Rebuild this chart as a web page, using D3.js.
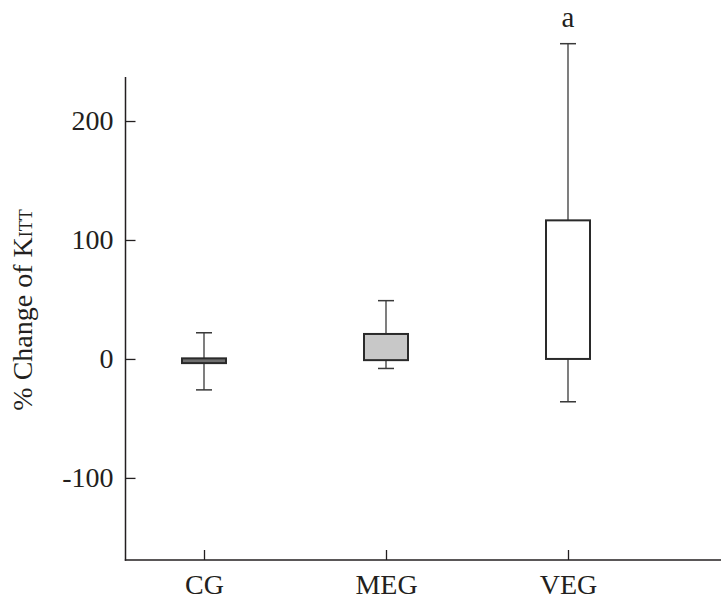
<!DOCTYPE html>
<html>
<head>
<meta charset="utf-8">
<script src="https://cdn.jsdelivr.net/npm/d3@7"></script>
<style>
  body { margin: 0; background: #fff; }
  svg text { font-family: "Liberation Serif", "DejaVu Serif", serif; fill: #231f20; }
</style>
</head>
<body>
<div id="chart-area"></div>
<script>
// Data
var groups = ["CG", "MEG", "VEG"];
var whiskerLow = [-26, -8, -36];
var boxLow = [-3.5, -1, 0];
var boxHigh = [0.5, 21, 116.5];
var whiskerHigh = [22, 49, 265];
var boxFill = ["#6f6f6f", "#c8c8c8", "#ffffff"];
var yTicks = [-100, 0, 100, 200];
var markLabels = ["", "", "a"];

var W = 721, H = 609;
var plotLeft = 125.5, plotRight = 721, plotTop = 77, plotBottom = 560;

var svg = d3.select("#chart-area")
	.append("svg")
	.attr("width", W)
	.attr("height", H);

// Scales
var y = d3.scaleLinear()
	.domain([-169, 237])
	.range([plotBottom, plotTop]);

var x = d3.scalePoint()
	.domain(groups)
	.range([204, 568]);

// Axes (hyphen minus as in the original)
var yAxis = svg.append("g")
	.attr("transform", "translate(" + plotLeft + ",0)")
	.call(d3.axisLeft(y).tickValues(yTicks).tickSize(-10).tickPadding(12).tickFormat(d => String(d)));
yAxis.select(".domain").remove();
yAxis.selectAll("line").attr("stroke", "#231f20").attr("stroke-width", 1.3);
yAxis.selectAll("text").attr("font-size", "28px").style("fill", "#231f20");

var xAxis = svg.append("g")
	.attr("transform", "translate(0," + plotBottom + ")")
	.call(d3.axisBottom(x).tickSize(-10).tickPadding(14));
xAxis.select(".domain").remove();
xAxis.selectAll("line").attr("stroke", "#231f20").attr("stroke-width", 1.3);
xAxis.selectAll("text").attr("font-size", "28px").attr("dy", "0.71em").style("fill", "#231f20");

// axis lines
svg.append("line")
	.attr("x1", plotLeft).attr("x2", plotLeft)
	.attr("y1", plotTop).attr("y2", plotBottom + 0.7)
	.attr("stroke", "#231f20").attr("stroke-width", 1.5);
svg.append("line")
	.attr("x1", plotLeft - 0.7).attr("x2", plotRight)
	.attr("y1", plotBottom).attr("y2", plotBottom)
	.attr("stroke", "#231f20").attr("stroke-width", 1.5);

// Boxes
var boxW = 44, capW = 16;
var rows = groups.map(function (g, i) {
	return { g: g, lo: whiskerLow[i], q1: boxLow[i], q3: boxHigh[i], hi: whiskerHigh[i], fill: boxFill[i], mark: markLabels[i] };
});

var box = svg.selectAll(".box")
	.data(rows)
	.enter().append("g")
	.attr("class", "box");

box.append("line")
	.attr("x1", d => x(d.g)).attr("x2", d => x(d.g))
	.attr("y1", d => y(d.hi)).attr("y2", d => y(d.lo))
	.attr("stroke", "#3a3a3a").attr("stroke-width", 1.3);

box.append("line")
	.attr("x1", d => x(d.g) - capW / 2).attr("x2", d => x(d.g) + capW / 2)
	.attr("y1", d => y(d.hi)).attr("y2", d => y(d.hi))
	.attr("stroke", "#3a3a3a").attr("stroke-width", 1.5);

box.append("line")
	.attr("x1", d => x(d.g) - capW / 2).attr("x2", d => x(d.g) + capW / 2)
	.attr("y1", d => y(d.lo)).attr("y2", d => y(d.lo))
	.attr("stroke", "#3a3a3a").attr("stroke-width", 1.5);

box.append("rect")
	.attr("x", d => x(d.g) - boxW / 2)
	.attr("width", boxW)
	.attr("y", d => y(d.q3))
	.attr("height", d => y(d.q1) - y(d.q3))
	.attr("fill", d => d.fill)
	.attr("stroke", "#2a2a2a").attr("stroke-width", 2);

box.append("text")
	.attr("x", d => x(d.g))
	.attr("y", 27)
	.attr("text-anchor", "middle")
	.attr("font-size", "29px")
	.text(d => d.mark);

// Y label
var yl = svg.append("text")
	.attr("transform", "translate(32,310) rotate(-90)")
	.attr("text-anchor", "middle")
	.attr("font-size", "28px");
yl.append("tspan").text("% Change of K");
yl.append("tspan").attr("font-size", "18px").text("ITT");
</script>
</body>
</html>
